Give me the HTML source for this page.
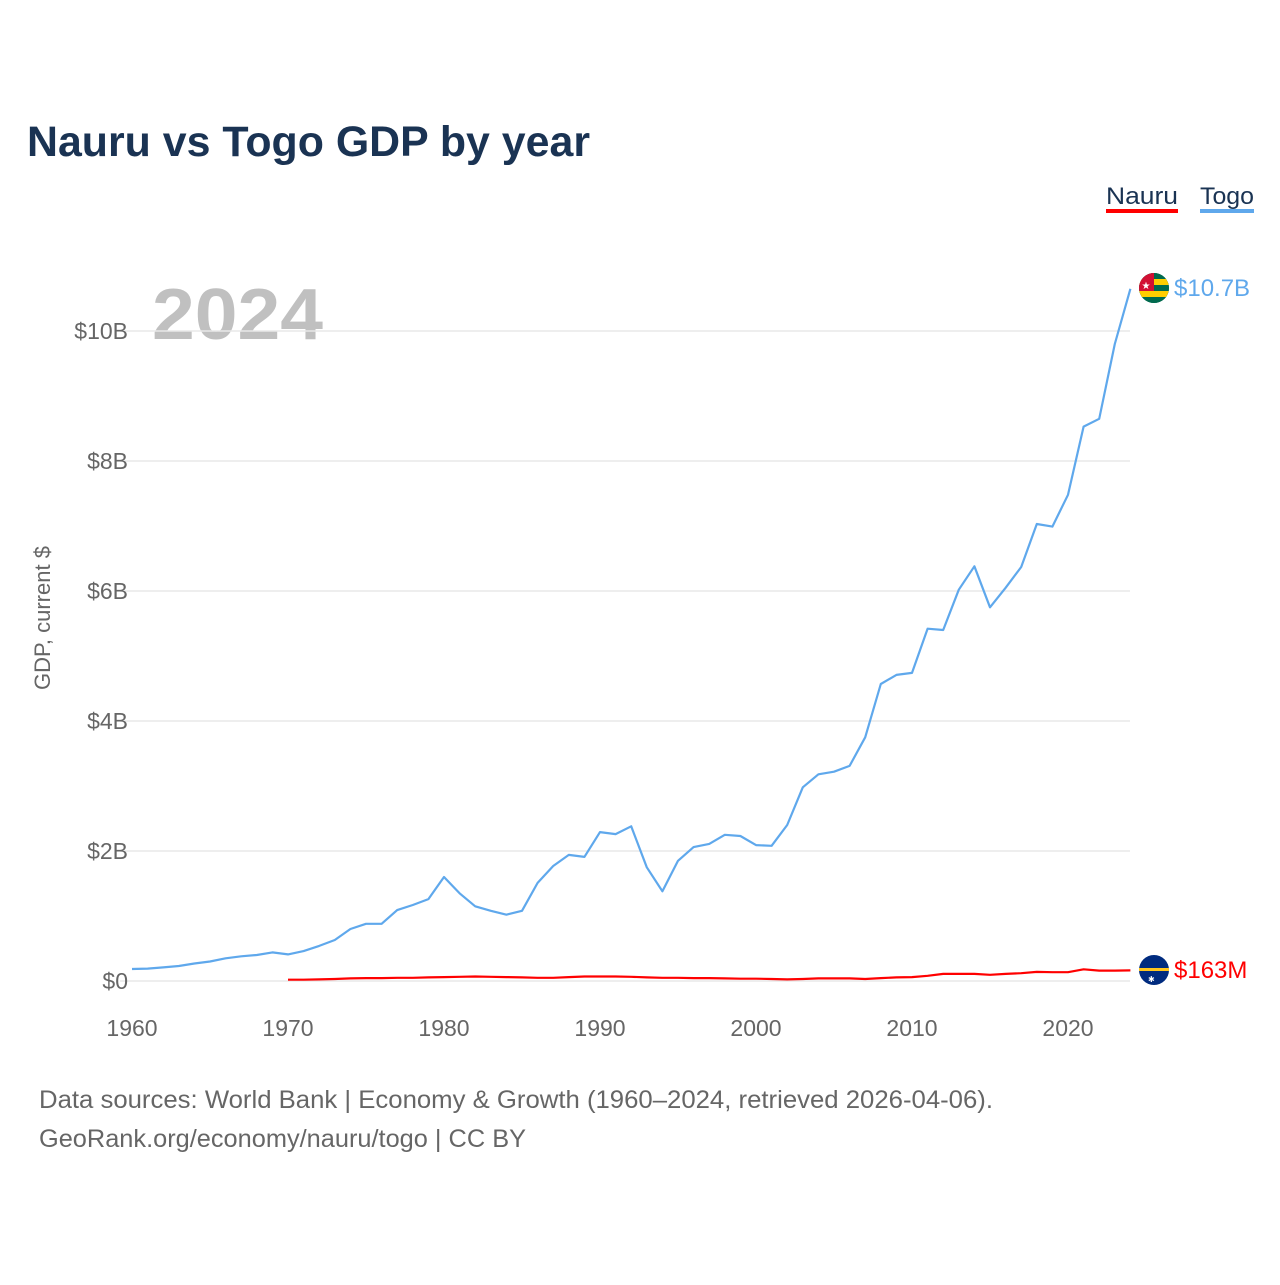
<!DOCTYPE html>
<html><head><meta charset="utf-8"><style>
body{margin:0;background:#fff;font-family:"Liberation Sans",sans-serif}
svg text{font-family:"Liberation Sans",sans-serif}
</style></head><body>
<svg width="1280" height="1280" viewBox="0 0 1280 1280">
<text x="27" y="156" font-size="43" font-weight="bold" fill="#1a3353" textLength="563" lengthAdjust="spacingAndGlyphs">Nauru vs Togo GDP by year</text>
<g>
<text x="1106" y="204" font-size="24" fill="#1a3353" textLength="72" lengthAdjust="spacingAndGlyphs">Nauru</text>
<rect x="1106" y="209" width="72" height="4" fill="#ff0000"/>
<text x="1200" y="204" font-size="24" fill="#1a3353" textLength="54" lengthAdjust="spacingAndGlyphs">Togo</text>
<rect x="1200" y="209" width="54" height="4" fill="#5fa8ec"/>
</g>
<text x="152" y="339" font-size="72" font-weight="bold" fill="#c0c0c0" textLength="171" lengthAdjust="spacingAndGlyphs">2024</text>
<text transform="translate(50,618) rotate(-90)" text-anchor="middle" font-size="22" fill="#666">GDP, current $</text>
<g id="grid"></g><g id="yt"></g><g id="xt"></g><g id="lines"></g>
<g>
<circle cx="1154" cy="288" r="15" fill="#006a4e"/>
<clipPath id="cf"><circle cx="1154" cy="288" r="15"/></clipPath>
<g clip-path="url(#cf)"><rect x="1139" y="273" width="30" height="30" fill="#006a4e"/><rect x="1139" y="279" width="30" height="6" fill="#ffce00"/><rect x="1139" y="291" width="30" height="6" fill="#ffce00"/><rect x="1139" y="273" width="15" height="18" fill="#d21034"/><text x="1146" y="289" font-size="10" fill="#fff" text-anchor="middle">★</text></g>
<text x="1174" y="296" font-size="24" fill="#5fa8ec">$10.7B</text>
</g>
<g>
<circle cx="1154" cy="970" r="15" fill="#002b7f"/>
<rect x="1139" y="968" width="30" height="3" fill="#ffc61e"/>
<text x="1148" y="982" font-size="8" fill="#fff">✱</text>
<text x="1174" y="978" font-size="24" fill="#ff0000">$163M</text>
</g>
<text x="39" y="1108" font-size="25" fill="#666" textLength="954" lengthAdjust="spacingAndGlyphs">Data sources: World Bank | Economy &amp; Growth (1960–2024, retrieved 2026-04-06).</text>
<text x="39" y="1147" font-size="25" fill="#666" textLength="487" lengthAdjust="spacingAndGlyphs">GeoRank.org/economy/nauru/togo | CC BY</text>
</svg>
<script>
const yTicks=[0,2,4,6,8,10];
const yTickLabels=["$0","$2B","$4B","$6B","$8B","$10B"];
const xTicks=[1960,1970,1980,1990,2000,2010,2020];
const togoStart=1960;
const togo=[0.185,0.19,0.21,0.23,0.27,0.3,0.35,0.38,0.4,0.44,0.41,0.46,0.54,0.63,0.8,0.88,0.88,1.09,1.17,1.26,1.6,1.35,1.15,1.08,1.02,1.08,1.51,1.77,1.94,1.91,2.29,2.26,2.38,1.75,1.38,1.85,2.06,2.11,2.25,2.23,2.09,2.08,2.4,2.98,3.18,3.22,3.31,3.75,4.57,4.71,4.74,5.42,5.4,6.02,6.38,5.75,6.05,6.37,7.03,6.99,7.48,8.53,8.65,9.8,10.65];
const nauruStart=1970;
const nauru=[0.02,0.02,0.025,0.03,0.04,0.045,0.045,0.05,0.05,0.055,0.06,0.065,0.07,0.065,0.06,0.055,0.05,0.05,0.06,0.07,0.07,0.07,0.065,0.055,0.05,0.05,0.045,0.045,0.04,0.035,0.035,0.03,0.025,0.03,0.04,0.04,0.04,0.03,0.045,0.055,0.06,0.08,0.11,0.11,0.11,0.095,0.11,0.12,0.14,0.135,0.135,0.18,0.16,0.16,0.163];
const NS="http://www.w3.org/2000/svg";
const X=y=>132+(y-1960)*15.6;
const Y=v=>981-v*65;
function mk(t,a,p){const e=document.createElementNS(NS,t);for(const k in a)e.setAttribute(k,a[k]);p.appendChild(e);return e;}
const grid=document.getElementById('grid'),yt=document.getElementById('yt'),xt=document.getElementById('xt'),lines=document.getElementById('lines');
yTicks.forEach((v,i)=>{
 const l=mk('line',{x1:120,x2:1130,y1:Y(v),y2:Y(v),stroke:'#e8e8e8','stroke-width':1.5},grid);
 
 
 const t=mk('text',{x:128,y:Y(v)+8,'text-anchor':'end','font-size':23,fill:'#666'},yt);
 t.textContent=yTickLabels[i];
 
 
});
xTicks.forEach(v=>{
 const t=mk('text',{x:X(v),y:1036,'text-anchor':'middle','font-size':23,fill:'#666'},xt);
 t.textContent=v;
 
 
});
function line(arr,start,color,name){
 const d=arr.map((v,i)=>(i?'L':'M')+X(start+i).toFixed(1)+','+Y(v).toFixed(1)).join('');
 const p=mk('path',{d:d,fill:'none',stroke:color,'stroke-width':2.2,'stroke-linejoin':'round'},lines);
 
 
}
line(togo,togoStart,'#5fa8ec','togo-line');
line(nauru,nauruStart,'#ff0000','nauru-line');
</script>
</body></html>
